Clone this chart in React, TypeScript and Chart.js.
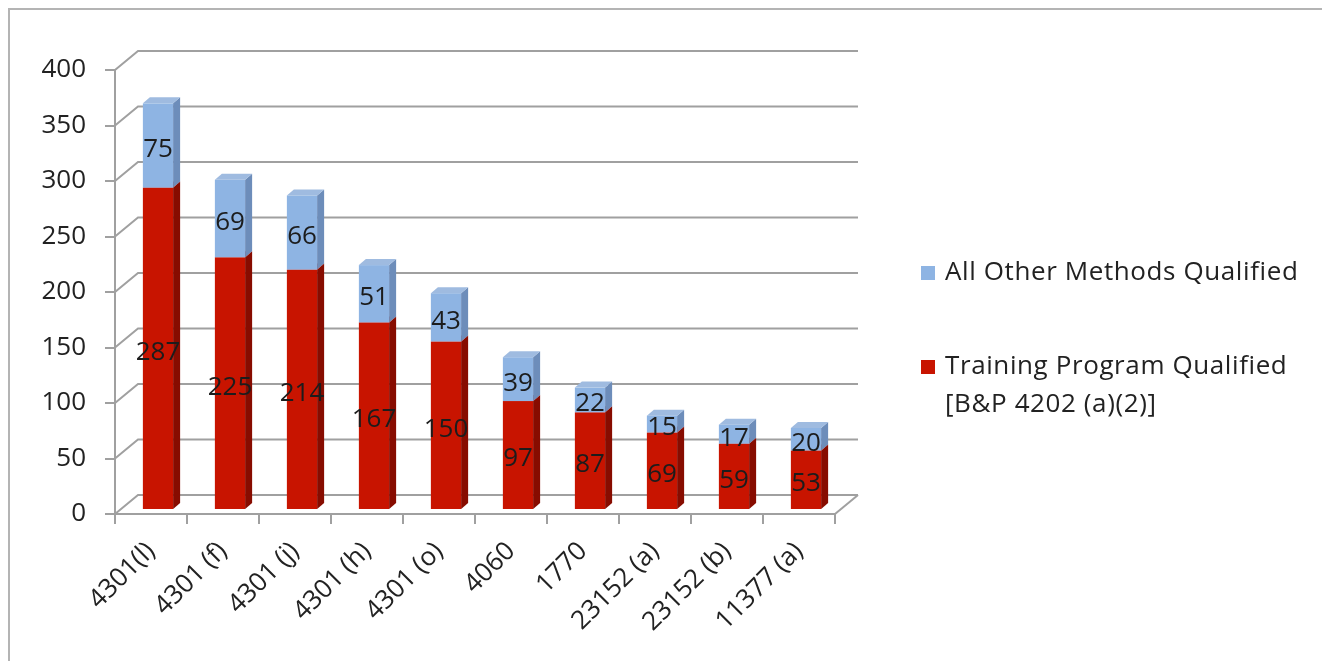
import React, { useEffect, useRef } from "react";
import { Chart, registerables } from "chart.js";

Chart.register(...registerables);

const categories = ["4301(l)", "4301 (f)", "4301 (j)", "4301 (h)", "4301 (o)", "4060", "1770", "23152 (a)", "23152 (b)", "11377 (a)"];
const trainingQualified = [287, 225, 214, 167, 150, 97, 87, 69, 59, 53];
const otherQualified = [75, 69, 66, 51, 43, 39, 22, 15, 17, 20];
const trainingLabel = ["Training Program Qualified", "[B&P 4202 (a)(2)]"];
const otherLabel = ["All Other Methods Qualified"];
const yTickStep = 50;
const yMax = 400;

const FONT = "'Open Sans', 'DejaVu Sans', sans-serif";
const TEXT = "#222222";
const AXIS = "#a0a0a0";

// 3D look parameters (pixels)
const WALL_DX = 23;
const WALL_DY = -19;
const BAR_SX = 7;
const BAR_SY = -4;
const BAR_K = 1.012;
const SIDE_DX = 7;
const SIDE_DY = -6;

const faces = [
  { front: "#c81400", side: "#870c00", top: "#d8402c" },
  { front: "#8eb4e3", side: "#6d8dba", top: "#9fbbe0" },
];

const wallPlugin = {
  id: "wall3d",
  beforeDatasetsDraw(chart: any) {
    const { ctx, chartArea } = chart;
    const ys = chart.scales.y;
    ctx.save();
    ctx.strokeStyle = AXIS;
    ctx.lineWidth = 2;
    ys.ticks.forEach((t: any) => {
      const y = ys.getPixelForValue(t.value);
      ctx.beginPath();
      ctx.moveTo(chartArea.left, y);
      ctx.lineTo(chartArea.left + WALL_DX, y + WALL_DY);
      ctx.lineTo(chartArea.right + WALL_DX, y + WALL_DY);
      ctx.stroke();
    });
    const yb = ys.getPixelForValue(0);
    ctx.beginPath();
    ctx.moveTo(chartArea.right, yb);
    ctx.lineTo(chartArea.right + WALL_DX, yb + WALL_DY);
    ctx.stroke();
    ctx.restore();
  },
};

const barsPlugin = {
  id: "bars3d",
  afterDatasetsDraw(chart: any) {
    const { ctx } = chart;
    const ys = chart.scales.y;
    const base = ys.getPixelForValue(0);
    const tf = (py: number) => base + BAR_SY - (base - py) * BAR_K;
    const segs: any[] = [];
    chart.data.datasets.forEach((ds: any, di: number) => {
      const meta = chart.getDatasetMeta(di);
      meta.data.forEach((el: any, i: number) => {
        const p = el.getProps(["x", "y", "base", "width"], true);
        const x0 = p.x - p.width / 2 + BAR_SX;
        const x1 = p.x + p.width / 2 + BAR_SX;
        const yt = tf(p.y);
        const yb = tf(p.base);
        const f = faces[di];
        ctx.save();
        ctx.fillStyle = f.front;
        ctx.fillRect(x0, yt, x1 - x0, yb - yt);
        ctx.fillStyle = f.side;
        ctx.beginPath();
        ctx.moveTo(x1, yt);
        ctx.lineTo(x1 + SIDE_DX, yt + SIDE_DY);
        ctx.lineTo(x1 + SIDE_DX, yb + SIDE_DY);
        ctx.lineTo(x1, yb);
        ctx.closePath();
        ctx.fill();
        ctx.fillStyle = f.top;
        ctx.beginPath();
        ctx.moveTo(x0, yt);
        ctx.lineTo(x0 + SIDE_DX, yt + SIDE_DY);
        ctx.lineTo(x1 + SIDE_DX, yt + SIDE_DY);
        ctx.lineTo(x1, yt);
        ctx.closePath();
        ctx.fill();
        ctx.restore();
        segs.push({ x: (x0 + x1) / 2, y: (yt + yb) / 2 + 4, v: ds.data[i] });
      });
    });
    ctx.save();
    ctx.font = `26px ${FONT}`;
    ctx.fillStyle = "#1c1c1c";
    ctx.textAlign = "center";
    ctx.textBaseline = "middle";
    segs.forEach((s) => ctx.fillText(String(s.v), s.x, s.y));
    ctx.restore();
  },
};

const legendPlugin = {
  id: "legend3d",
  afterDraw(chart: any) {
    const { ctx } = chart;
    const items = [
      { lines: otherLabel, color: faces[1].front, y: 263 },
      { lines: trainingLabel, color: faces[0].front, y: 357 },
    ];
    ctx.save();
    ctx.font = `26px ${FONT}`;
    try { (ctx as any).letterSpacing = "0.6px"; } catch (e) {}
    ctx.textBaseline = "middle";
    ctx.textAlign = "left";
    items.forEach((it) => {
      ctx.fillStyle = it.color;
      ctx.fillRect(911, it.y - 7, 14, 14);
      ctx.fillStyle = TEXT;
      it.lines.forEach((ln, j) => ctx.fillText(ln, 935, it.y + j * 38));
    });
    ctx.restore();
  },
};

export default function App() {
  const ref = useRef<HTMLCanvasElement>(null);
  useEffect(() => {
    if (!ref.current) return;
    const chart = new Chart(ref.current, {
      type: "bar",
      data: {
        labels: categories,
        datasets: [
          { label: trainingLabel.join(" "), data: trainingQualified, backgroundColor: "rgba(0,0,0,0)", barPercentage: 0.42, categoryPercentage: 1 },
          { label: otherLabel.join(" "), data: otherQualified, backgroundColor: "rgba(0,0,0,0)", barPercentage: 0.42, categoryPercentage: 1 },
        ],
      },
      options: {
        responsive: false,
        animation: false,
        layout: { padding: { top: 60, right: 487, left: 0, bottom: 0 } },
        plugins: { legend: { display: false }, tooltip: { enabled: false } },
        scales: {
          x: {
            stacked: true,
            grid: { offset: true, drawOnChartArea: false, drawTicks: true, tickLength: 10, color: AXIS, lineWidth: 2 },
            border: { display: true, color: AXIS, width: 2 },
            ticks: { minRotation: 45, maxRotation: 45, font: { size: 26, family: FONT }, color: TEXT, padding: 12 },
            afterFit: (s: any) => { s.height = 147; },
          },
          y: {
            stacked: true,
            min: 0,
            max: yMax,
            grid: { drawOnChartArea: false, drawTicks: true, tickLength: 10, color: AXIS, lineWidth: 2 },
            border: { display: true, color: AXIS, width: 2 },
            ticks: { stepSize: yTickStep, font: { size: 26, family: FONT }, color: TEXT, padding: 19 },
            afterFit: (s: any) => { s.width = 105; },
          },
        },
      },
      plugins: [wallPlugin, barsPlugin, legendPlugin],
    });
    return () => chart.destroy();
  }, []);
  return (
    <div style={{ width: 1314, height: 653, boxSizing: "border-box", borderTop: "2px solid #b4b4b4", borderLeft: "2px solid #b4b4b4", background: "#fff", overflow: "visible" }}>
      <canvas ref={ref} width={1312} height={651} style={{ display: "block" }} />
    </div>
  );
}
